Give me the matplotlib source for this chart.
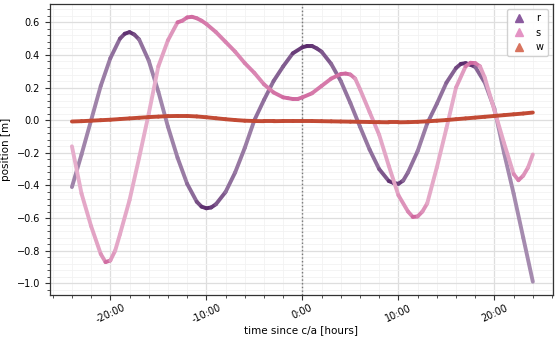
import numpy as np
import matplotlib
matplotlib.use("Agg")
import matplotlib.pyplot as plt
from matplotlib.ticker import MultipleLocator, FuncFormatter
from matplotlib.lines import Line2D
from matplotlib.collections import LineCollection
from matplotlib.colors import to_rgb

# ---------- DATA (hourly) ----------
hours = list(range(-24, 25))

r_pos = [-0.41, -0.21, 0.00, 0.21, 0.38, 0.50, 0.54, 0.495, 0.365, 0.175,
         -0.04, -0.23, -0.39, -0.50, -0.54, -0.515, -0.44, -0.32, -0.17, 0.00,
         0.124, 0.24, 0.33, 0.41, 0.447, 0.455, 0.42, 0.345, 0.24, 0.105,
         -0.04, -0.18, -0.30, -0.373, -0.39, -0.32, -0.19, -0.02, 0.10, 0.23,
         0.32, 0.35, 0.327, 0.23, 0.07, -0.20, -0.45, -0.72, -0.99]

s_pos = [-0.16, -0.45, -0.65, -0.82, -0.86, -0.70, -0.49, -0.23, 0.04, 0.33,
         0.49, 0.60, 0.63, 0.625, 0.59, 0.54, 0.48, 0.42, 0.35, 0.29,
         0.22, 0.17, 0.14, 0.13, 0.14, 0.165, 0.21, 0.255, 0.283, 0.28,
         0.19, 0.05, -0.09, -0.28, -0.46, -0.56, -0.59, -0.51, -0.29, -0.05,
         0.20, 0.33, 0.35, 0.26, 0.06, -0.14, -0.33, -0.34, -0.21]

w_pos = [-0.008, -0.006, -0.003, 0.000, 0.003, 0.007, 0.011, 0.015, 0.019, 0.022,
         0.025, 0.026, 0.026, 0.023, 0.018, 0.012, 0.006, 0.001, -0.003, -0.005,
         -0.006, -0.006, -0.005, -0.005, -0.005, -0.005, -0.006, -0.007, -0.008, -0.009,
         -0.010, -0.011, -0.012, -0.013, -0.013, -0.012, -0.010, -0.007, -0.003, 0.001,
         0.006, 0.011, 0.016, 0.021, 0.026, 0.031, 0.036, 0.041, 0.047]

# extra readings around the turning points (half hours)
r_extra_t = [-18.5, -17.5, -10.5, -9.5, 0.5, 1.5, 9.5, 10.5, 16.5, 17.5]
r_extra_v = [0.53, 0.525, -0.53, -0.535, 0.455, 0.44, -0.385, -0.37, 0.345, 0.34]

s_extra_t = [-20.5, -19.5, -12.5, -11.5, -10.5, -1.5, -0.5, 4.5, 5.5, 11.5, 12.5, 17.5, 18.5, 22.5, 23.5]
s_extra_v = [-0.87, -0.80, 0.61, 0.634, 0.61, 0.135, 0.13, 0.286, 0.255, -0.593, -0.56, 0.352, 0.33, -0.368, -0.29]

w_extra_t = []
w_extra_v = []

series = {
    "r": (hours + r_extra_t, r_pos + r_extra_v),
    "s": (hours + s_extra_t, s_pos + s_extra_v),
    "w": (hours + w_extra_t, w_pos + w_extra_v),
}
dark = {"r": "#5a2a6c", "s": "#d0689f", "w": "#c24a34"}
legend_col = {"r": "#8a5a9e", "s": "#e493c4", "w": "#d8735e"}

# ---------- PLOT ----------
fig = plt.figure(figsize=(5.6, 3.38), dpi=100)
ax = fig.add_axes([0.089, 0.127, 0.8985, 0.861])

px_per_h = 9.62
px_per_m = 163.0

for name, (t, v) in series.items():
    order = np.argsort(t)
    t = np.asarray(t, float)[order]
    v = np.asarray(v, float)[order]
    pts = np.column_stack([t, v])
    segs = np.stack([pts[:-1], pts[1:]], axis=1)
    # lighter where the trace is steep (markers spread thinner there)
    slope = np.abs(np.diff(v) * px_per_m) / (np.diff(t) * px_per_h)
    dens = 1.0 / np.sqrt(1.0 + slope ** 2)
    a = 0.42 + 0.58 * dens
    base = np.array(to_rgb(dark[name]))
    cols = [tuple(1 - ai * (1 - base)) for ai in a]
    lc = LineCollection(segs, colors=cols, linewidths=2.8, capstyle="round",
                        joinstyle="round", zorder=3)
    ax.add_collection(lc)

ax.axvline(0, color="#777777", ls=":", lw=1, zorder=2)

ax.set_xlim(-26.3, 26.1)
ax.set_ylim(-1.072, 0.712)

ax.xaxis.set_major_locator(MultipleLocator(10))
ax.xaxis.set_minor_locator(MultipleLocator(2))
ax.yaxis.set_major_locator(MultipleLocator(0.2))
ax.yaxis.set_minor_locator(MultipleLocator(0.04))
ax.xaxis.set_major_formatter(FuncFormatter(lambda v, p: f"{int(round(v))}:00"))

ax.grid(which="major", color="#dedede", lw=0.9, zorder=0)
ax.grid(which="minor", color="#f2f2f2", lw=0.6, zorder=0)
ax.set_axisbelow(True)

for sp in ax.spines.values():
    sp.set_color("#333333")
    sp.set_linewidth(0.9)

ax.tick_params(which="major", length=3.5, width=0.8, labelsize=7, color="#333333")
ax.tick_params(axis="x", which="major", pad=2)
ax.tick_params(which="minor", length=2, width=0.6, color="#333333")
plt.setp(ax.get_xticklabels(), rotation=25, ha="center")

ax.set_xlabel("time since c/a [hours]", fontsize=7.5, labelpad=0)
ax.set_ylabel("position [m]", fontsize=7.5, labelpad=4)

handles = [Line2D([], [], marker="^", ls="none", color=legend_col[n],
                  markersize=5.5, label=n) for n in series]
ax.legend(handles=handles, loc="upper right", fontsize=7, frameon=True,
          framealpha=0.9, edgecolor="#cccccc", handlelength=1.6,
          handletextpad=0.9, borderpad=0.45, labelspacing=0.45,
          borderaxespad=0.5)

fig.savefig("out.png", dpi=100)
